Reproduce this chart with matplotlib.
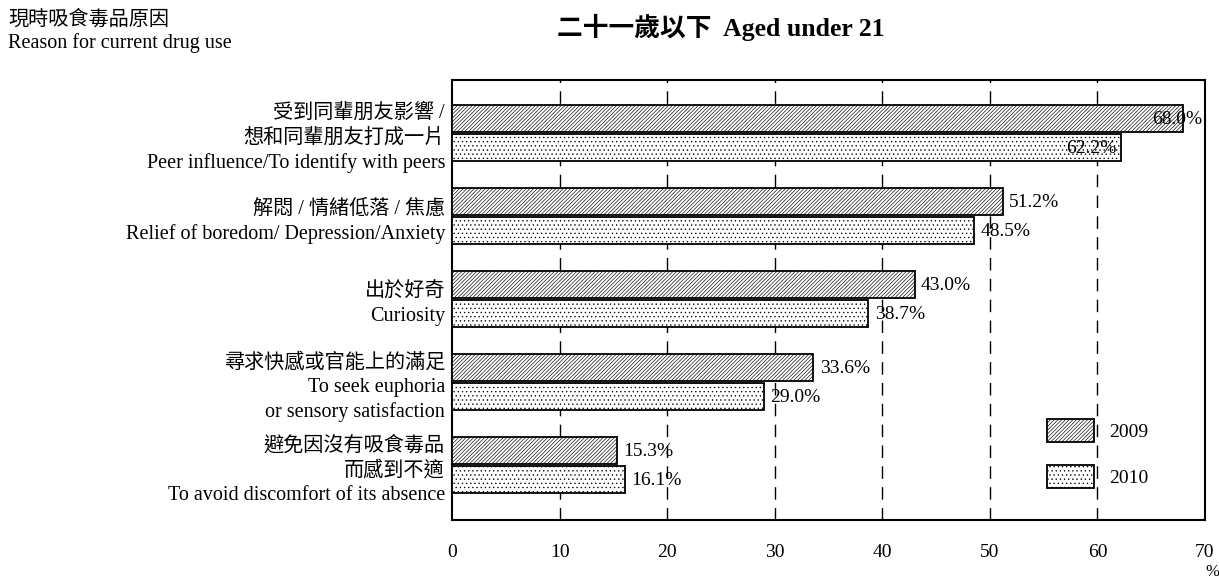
import matplotlib
matplotlib.use("Agg")
import matplotlib.pyplot as plt
from matplotlib.patches import Patch

# ============================================================
# DATA
# ============================================================

reasons = [
    "受到同輩朋友影響 /\n想和同輩朋友打成一片\nPeer influence/To identify with peers",
    "解悶 / 情緒低落 / 焦慮\nRelief of boredom/ Depression/Anxiety",
    "出於好奇\nCuriosity",
    "尋求快感或官能上的滿足\nTo seek euphoria\nor sensory satisfaction",
    "避免因沒有吸食毒品\n而感到不適\nTo avoid discomfort of its absence",
]
pct_2009 = [68.0, 51.2, 43.0, 33.6, 15.3]
pct_2010 = [62.2, 48.5, 38.7, 29.0, 16.1]
years = ["2009", "2010"]
x_ticks = [0, 10, 20, 30, 40, 50, 60, 70]

FONT = ["Liberation Serif", "Noto Sans CJK TC"]
plt.rcParams["font.family"] = FONT
plt.rcParams["hatch.linewidth"] = 0.45

HATCH_09 = "/////////"
HATCH_10 = "...."

fig = plt.figure(figsize=(12.19, 5.79), dpi=100)
ax = fig.add_axes([452 / 1219, 1 - 520 / 579, 753 / 1219, 440 / 579])

pos = list(range(len(reasons)))
h = 0.33
ax.barh([p - h / 2 - 0.01 for p in pos], pct_2009, height=h, color="white",
        edgecolor="black", hatch=HATCH_09, linewidth=1.3, zorder=3)
ax.barh([p + h / 2 + 0.01 for p in pos], pct_2010, height=h, color="white",
        edgecolor="black", hatch=HATCH_10, linewidth=1.3, zorder=3)

# value labels (the longest ones sit inside the bar end)
for p, v in zip(pos, pct_2009):
    if v > 65:
        ax.text(v + 1.7, p - h / 2, f"{v:.1f}%", ha="right", va="center",
                fontsize=14, zorder=4)
    else:
        ax.text(v + 0.6, p - h / 2, f"{v:.1f}%", ha="left", va="center",
                fontsize=14, zorder=4)
for p, v in zip(pos, pct_2010):
    if v > 60:
        ax.text(v - 0.4, p + h / 2 + 0.02, f"{v:.1f}%", ha="right", va="center",
                fontsize=14, zorder=4)
    else:
        ax.text(v + 0.6, p + h / 2 + 0.02, f"{v:.1f}%", ha="left", va="center",
                fontsize=14, zorder=4)

ax.set_xlim(0, 70)
ax.set_ylim(4.66, -0.64)
ax.set_xticks(x_ticks)
ax.set_xticklabels([str(t) for t in x_ticks], fontsize=14)
ax.tick_params(axis="x", length=0, pad=17)
ax.set_yticks(pos)
ax.set_yticklabels(reasons, fontsize=14.5, linespacing=1.38)
ax.tick_params(axis="y", length=0, pad=5)

for t in x_ticks[1:-1]:
    ax.axvline(t, color="black", linewidth=1.0, linestyle=(0, (9, 6)), zorder=1)

for s in ax.spines.values():
    s.set_linewidth(1.5)

handles = [
    Patch(facecolor="white", edgecolor="black", hatch=HATCH_09, linewidth=1.3),
    Patch(facecolor="white", edgecolor="black", hatch=HATCH_10, linewidth=1.3),
]
ax.legend(handles, years, loc="upper left", bbox_to_anchor=(0.79, 0.23),
          frameon=False, fontsize=14, handlelength=2.4, handleheight=1.45,
          labelspacing=1.2, handletextpad=0.8, borderaxespad=0, borderpad=0)

fig.text(1212 / 1219, 1 - 572 / 579, "%", ha="center", va="center", fontsize=12)
fig.text(8 / 1219, 1 - 20 / 579, "現時吸食毒品原因", ha="left", va="center",
         fontsize=14.5)
fig.text(8 / 1219, 1 - 43 / 579, "Reason for current drug use", ha="left",
         va="center", fontsize=14.5)
fig.text(721 / 1219, 1 - 27 / 579, "二十一歲以下  Aged under 21", ha="center",
         va="center", fontsize=18.5, fontweight="bold")

fig.savefig("out.png", dpi=100)
